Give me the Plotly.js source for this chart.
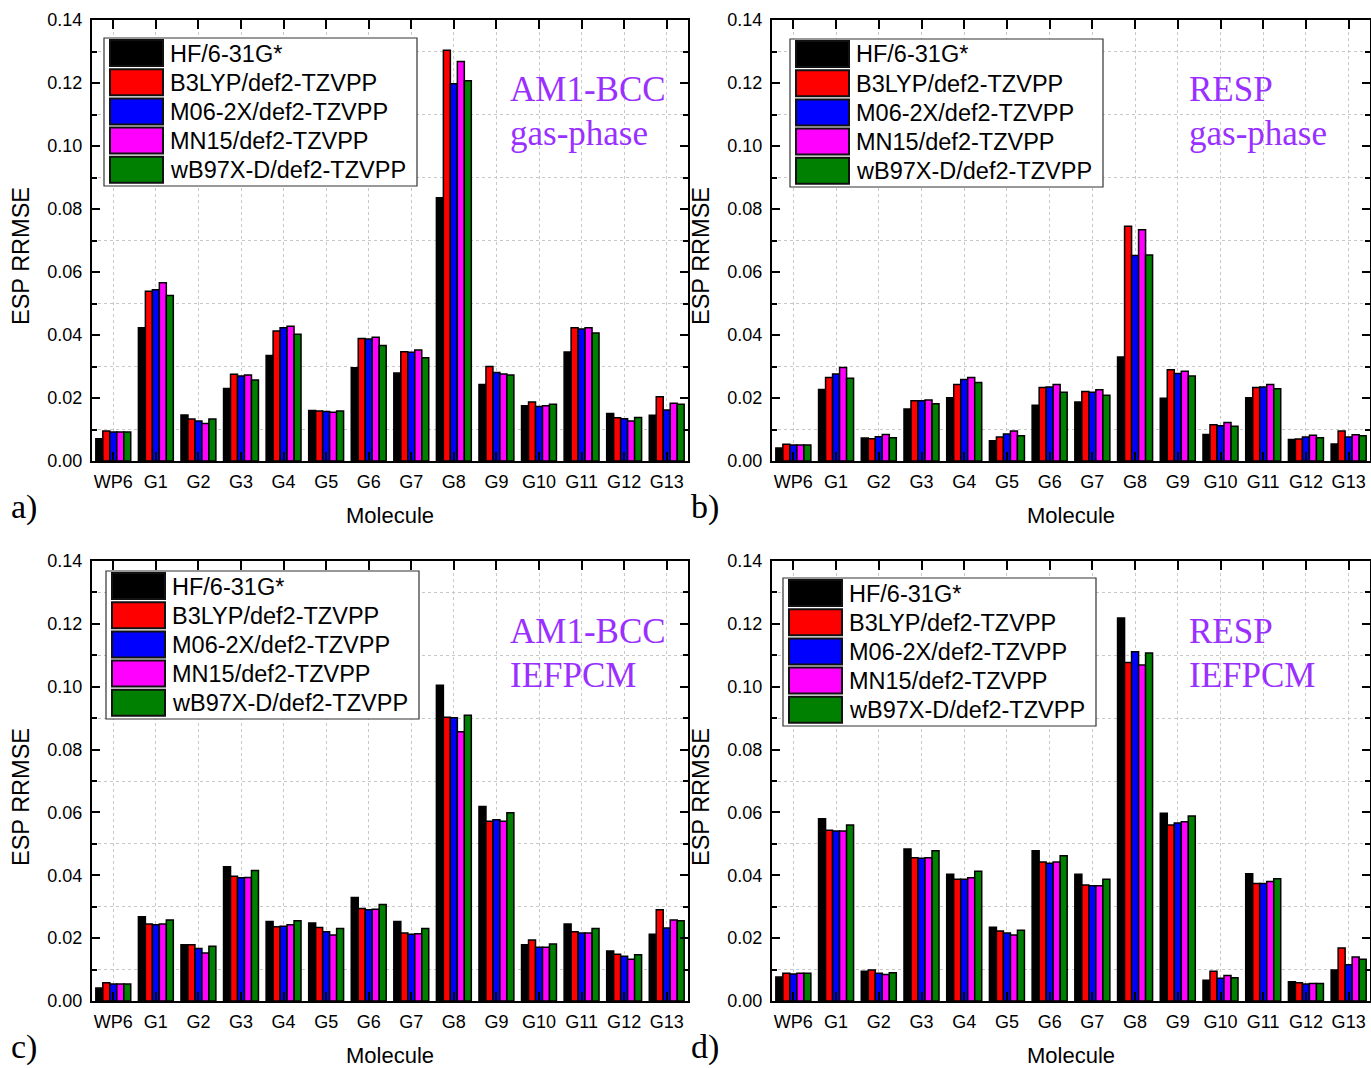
<!DOCTYPE html>
<html>
<head>
<meta charset="utf-8">
<script src="https://cdn.plot.ly/plotly-3.0.1.min.js"></script>
<style>
  html, body { margin: 0; padding: 0; background: #fff; }
  #chart { width: 1371px; height: 1068px; }
</style>
</head>
<body>
<div id="chart"></div>
<script>
// Molecules on the x axis and the five levels of theory
const molecules = ['WP6', 'G1', 'G2', 'G3', 'G4', 'G5', 'G6', 'G7', 'G8', 'G9', 'G10', 'G11', 'G12', 'G13'];
const methods = ['HF/6-31G*', 'B3LYP/def2-TZVPP', 'M06-2X/def2-TZVPP', 'MN15/def2-TZVPP', 'wB97X-D/def2-TZVPP'];
const methodColors = ['#000000', '#ff0000', '#0000ff', '#ff00ff', '#008000'];

// a) AM1-BCC, gas-phase
const hf_a   = [0.0071, 0.0423, 0.0146, 0.0230, 0.0335, 0.0160, 0.0296, 0.0279, 0.0836, 0.0243, 0.0175, 0.0346, 0.0151, 0.0145];
const b3_a   = [0.0095, 0.0539, 0.0133, 0.0275, 0.0413, 0.0159, 0.0389, 0.0347, 0.1304, 0.0300, 0.0187, 0.0423, 0.0137, 0.0204];
const m06_a  = [0.0092, 0.0544, 0.0127, 0.0270, 0.0423, 0.0157, 0.0387, 0.0345, 0.1198, 0.0281, 0.0173, 0.0419, 0.0134, 0.0162];
const mn15_a = [0.0092, 0.0566, 0.0119, 0.0273, 0.0428, 0.0155, 0.0393, 0.0352, 0.1268, 0.0276, 0.0175, 0.0423, 0.0127, 0.0183];
const wb_a   = [0.0092, 0.0525, 0.0133, 0.0257, 0.0402, 0.0159, 0.0367, 0.0328, 0.1207, 0.0273, 0.0180, 0.0406, 0.0138, 0.0180];

// b) RESP, gas-phase
const hf_b   = [0.0041, 0.0227, 0.0073, 0.0165, 0.0201, 0.0064, 0.0177, 0.0187, 0.0330, 0.0199, 0.0084, 0.0201, 0.0068, 0.0054];
const b3_b   = [0.0053, 0.0265, 0.0071, 0.0191, 0.0243, 0.0076, 0.0233, 0.0221, 0.0745, 0.0290, 0.0115, 0.0233, 0.0070, 0.0095];
const m06_b  = [0.0051, 0.0276, 0.0077, 0.0191, 0.0259, 0.0086, 0.0235, 0.0218, 0.0652, 0.0278, 0.0112, 0.0235, 0.0076, 0.0076];
const mn15_b = [0.0051, 0.0297, 0.0084, 0.0194, 0.0265, 0.0095, 0.0243, 0.0226, 0.0734, 0.0285, 0.0122, 0.0243, 0.0082, 0.0083];
const wb_b   = [0.0051, 0.0263, 0.0074, 0.0182, 0.0249, 0.0080, 0.0218, 0.0209, 0.0654, 0.0270, 0.0110, 0.0229, 0.0074, 0.0080];

// c) AM1-BCC, IEFPCM
const hf_c   = [0.0041, 0.0268, 0.0179, 0.0427, 0.0253, 0.0248, 0.0329, 0.0253, 0.1005, 0.0619, 0.0179, 0.0245, 0.0159, 0.0212];
const b3_c   = [0.0058, 0.0245, 0.0179, 0.0397, 0.0236, 0.0234, 0.0294, 0.0216, 0.0903, 0.0572, 0.0194, 0.0220, 0.0149, 0.0290];
const m06_c  = [0.0054, 0.0243, 0.0167, 0.0392, 0.0238, 0.0220, 0.0290, 0.0212, 0.0901, 0.0577, 0.0171, 0.0216, 0.0142, 0.0232];
const mn15_c = [0.0054, 0.0245, 0.0153, 0.0393, 0.0243, 0.0210, 0.0292, 0.0214, 0.0857, 0.0572, 0.0171, 0.0216, 0.0133, 0.0258];
const wb_c   = [0.0054, 0.0258, 0.0174, 0.0415, 0.0255, 0.0231, 0.0307, 0.0231, 0.0909, 0.0599, 0.0181, 0.0231, 0.0147, 0.0255];

// d) RESP, IEFPCM
const hf_d   = [0.0076, 0.0580, 0.0095, 0.0484, 0.0403, 0.0235, 0.0478, 0.0403, 0.1219, 0.0597, 0.0066, 0.0405, 0.0061, 0.0099];
const b3_d   = [0.0088, 0.0543, 0.0099, 0.0456, 0.0387, 0.0223, 0.0442, 0.0369, 0.1077, 0.0560, 0.0095, 0.0374, 0.0058, 0.0169];
const m06_d  = [0.0086, 0.0541, 0.0088, 0.0454, 0.0387, 0.0216, 0.0438, 0.0367, 0.1111, 0.0566, 0.0072, 0.0374, 0.0054, 0.0115];
const mn15_d = [0.0088, 0.0541, 0.0084, 0.0456, 0.0392, 0.0210, 0.0442, 0.0367, 0.1069, 0.0570, 0.0081, 0.0380, 0.0056, 0.0140];
const wb_d   = [0.0088, 0.0560, 0.0090, 0.0478, 0.0413, 0.0225, 0.0462, 0.0387, 0.1107, 0.0589, 0.0074, 0.0389, 0.0056, 0.0133];

// Panel captions
const chargeModels = ['AM1-BCC', 'RESP', 'AM1-BCC', 'RESP'];
const solvation = ['gas-phase', 'gas-phase', 'IEFPCM', 'IEFPCM'];
const panelTags = ['a)', 'b)', 'c)', 'd)'];
const xTitle = 'Molecule';
const yTitle = 'ESP RRMSE';

// ---- layout geometry (pixels in a 1371 x 1068 figure) ----
const W = 1371, H = 1068;
const px = x => x / W;
const py = y => 1 - y / H;

const panelSeries = [
  [hf_a, b3_a, m06_a, mn15_a, wb_a],
  [hf_b, b3_b, m06_b, mn15_b, wb_b],
  [hf_c, b3_c, m06_c, mn15_c, wb_c],
  [hf_d, b3_d, m06_d, mn15_d, wb_d]
];
// plot rectangles: left, top, right, bottom
const rects = [[92, 20, 688, 461], [772, 20, 1370, 461], [92, 561, 688, 1001], [772, 561, 1370, 1001]];
// top-left corner of each key box
const keyPos = [[104, 38], [790, 39], [106, 571], [783, 578]];
// caption left edge and the two text-line centres
const capPos = [[508, 89, 134], [1187, 89, 134], [508, 631, 675], [1187, 631, 675]];
const tagPos = [[24, 507], [705, 507], [24, 1047], [705, 1047]];
// centre of the rotated y-axis title
const yTitlePos = [[21, 256], [701, 256], [21, 797], [701, 797]];

const SANS = 'Liberation Sans, Arial, sans-serif';
const SERIF = 'Liberation Serif, Times New Roman, serif';
const PURPLE = '#9a30ff';

const traces = [];
const layout = {
  width: W, height: H,
  margin: {l: 0, r: 0, t: 0, b: 0},
  paper_bgcolor: '#fff', plot_bgcolor: 'rgba(0,0,0,0)',
  barmode: 'group', bargap: 0.18, bargroupgap: 0,
  showlegend: false,
  font: {family: SANS, color: '#000'},
  shapes: [], annotations: []
};

panelSeries.forEach((series, p) => {
  const sfx = p === 0 ? '' : String(p + 1);
  const [l, t, r, b] = rects[p];

  series.forEach((vals, m) => {
    traces.push({
      type: 'bar', x: molecules, y: vals, name: methods[m],
      xaxis: 'x' + sfx, yaxis: 'y' + sfx,
      marker: {color: methodColors[m], line: {color: '#000', width: 1.5}},
      hovertemplate: '%{x}: %{y:.4f}<extra>' + methods[m] + '</extra>'
    });
  });

  layout['xaxis' + sfx] = {
    domain: [px(l), px(r)], anchor: 'y' + sfx, type: 'category',
    range: [-0.5, molecules.length - 0.5],
    showline: true, linecolor: '#000', linewidth: 2, mirror: 'allticks',
    ticks: 'inside', ticklen: 9, tickwidth: 1.5, tickcolor: '#000',
    showgrid: true, gridcolor: '#c8c8c8', griddash: 'dot', gridwidth: 1,
    tickfont: {family: SANS, size: 18, color: '#000'},
    ticklabelstandoff: 3,
    title: {text: xTitle, font: {family: SANS, size: 22, color: '#000'}, standoff: 17},
    fixedrange: true
  };
  layout['yaxis' + sfx] = {
    domain: [py(b), py(t)], anchor: 'x' + sfx,
    range: [0, 0.14], dtick: 0.02, tickformat: '.2f',
    showline: true, linecolor: '#000', linewidth: 2, mirror: 'allticks',
    ticks: 'inside', ticklen: 8, tickwidth: 1.5, tickcolor: '#000',
    showgrid: false, zeroline: false,
    minor: {dtick: 0.01, ticks: 'inside', ticklen: 5, tickwidth: 1.5, tickcolor: '#000',
            showgrid: true, gridcolor: '#c8c8c8', griddash: 'dot', gridwidth: 1},
    tickfont: {family: SANS, size: 18, color: '#000'},
    ticklabelstandoff: 4,
    fixedrange: true
  };

  // rotated y-axis title
  layout.annotations.push({
    xref: 'paper', yref: 'paper', x: px(yTitlePos[p][0]), y: py(yTitlePos[p][1]),
    xanchor: 'center', yanchor: 'middle', showarrow: false, textangle: -90,
    text: yTitle, font: {family: SANS, size: 23.5, color: '#000'}
  });

  // key box with large colour swatches
  const [kx, ky] = keyPos[p];
  layout.shapes.push({
    type: 'rect', xref: 'paper', yref: 'paper', layer: 'above',
    x0: px(kx), x1: px(kx + 313), y0: py(ky + 148), y1: py(ky),
    fillcolor: '#fff', line: {color: '#333', width: 1.2}
  });
  methods.forEach((name, m) => {
    const rowTop = ky + 2 + 29.2 * m;
    layout.shapes.push({
      type: 'rect', xref: 'paper', yref: 'paper', layer: 'above',
      x0: px(kx + 6), x1: px(kx + 59), y0: py(rowTop + 26), y1: py(rowTop),
      fillcolor: methodColors[m], line: {color: '#111', width: 2}
    });
    layout.annotations.push({
      xref: 'paper', yref: 'paper', x: px(kx + 64), y: py(rowTop + 13.5),
      xanchor: 'left', yanchor: 'middle', showarrow: false,
      text: name, font: {family: SANS, size: 23.5, color: '#000'}
    });
  });

  // caption: charge model and solvation model
  const [cx, cy1, cy2] = capPos[p];
  [chargeModels[p], solvation[p]].forEach((txt, i) => {
    layout.annotations.push({
      xref: 'paper', yref: 'paper', x: px(cx), y: py(i === 0 ? cy1 : cy2),
      xanchor: 'left', yanchor: 'middle', showarrow: false,
      text: txt, font: {family: SERIF, size: 35, color: PURPLE}
    });
  });

  // panel tag
  layout.annotations.push({
    xref: 'paper', yref: 'paper', x: px(tagPos[p][0]), y: py(tagPos[p][1]),
    xanchor: 'center', yanchor: 'middle', showarrow: false,
    text: panelTags[p], font: {family: SERIF, size: 34, color: '#000'}
  });
});

Plotly.newPlot('chart', traces, layout, {displayModeBar: false});
</script>
</body>
</html>
